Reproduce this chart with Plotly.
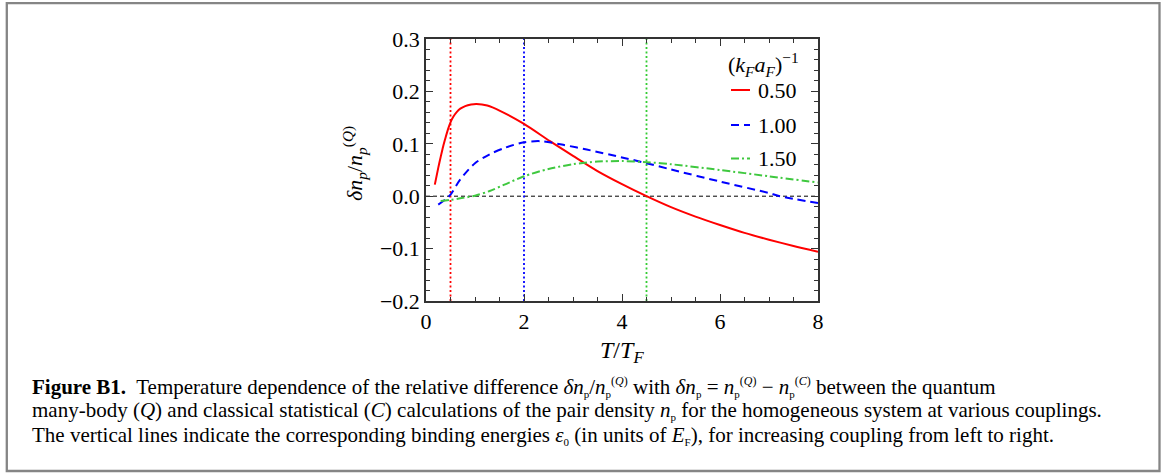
import plotly.graph_objects as go

# ---- data ---------------------------------------------------------------
# relative pair-density difference  dn_p / n_p^(Q)  versus  T/T_F
couplings = ["0.50", "1.00", "1.50"]

t_red = [0.18, 0.25, 0.30, 0.35, 0.40, 0.45, 0.50, 0.56, 0.63, 0.70, 0.80, 0.92, 1.03, 1.25,
         1.51, 2.00, 2.53, 3.00, 3.50, 4.00, 4.50, 5.00, 5.50, 6.00, 6.50, 7.00, 7.50, 8.00]
d_red = [0.022, 0.054, 0.075, 0.095, 0.112, 0.128, 0.141, 0.152, 0.161, 0.167, 0.172, 0.175,
         0.176, 0.173, 0.163, 0.138, 0.105, 0.077, 0.048, 0.023, 0.000, -0.021, -0.039,
         -0.055, -0.070, -0.083, -0.095, -0.106]

t_blue = [0.25, 0.40, 0.50, 0.70, 1.00, 1.30, 1.60, 2.00, 2.35, 2.80, 3.28, 4.00,
          4.50, 5.00, 6.00, 7.00, 7.22, 8.00]
d_blue = [-0.016, -0.006, 0.003, 0.032, 0.063, 0.080, 0.092, 0.103, 0.105, 0.098, 0.089, 0.074,
          0.063, 0.051, 0.028, 0.006, 0.000, -0.013]

t_green = [0.30, 0.50, 0.70, 1.00, 1.30, 1.60, 2.00, 2.50, 3.00, 3.50, 4.00, 4.50,
           5.00, 6.00, 7.00, 8.00]
d_green = [-0.009, -0.007, -0.004, 0.001, 0.010, 0.022, 0.038, 0.052, 0.061, 0.066, 0.067, 0.065,
           0.061, 0.050, 0.038, 0.026]

# binding energies eps_0 / E_F for each coupling
binding_energies = [0.5, 2.0, 4.5]

x_ticks = [0, 2, 4, 6, 8]
y_ticks = [-0.2, -0.1, 0.0, 0.1, 0.2, 0.3]
y_tick_text = ["\u22120.2", "\u22120.1", "0.0", "0.1", "0.2", "0.3"]

# ---- styling ------------------------------------------------------------
W, H = 1165, 474
ML, MR, MT, MB = 426, 347, 39, 173
SERIF = "Liberation Serif"

colors = ["#ff0000", "#0000ff", "#3fc83f"]
vcolors = ["#ff0000", "#0000ff", "#33cc33"]
dashes = ["solid", "8px,5px", "8px,3px,2px,3px"]

curves = [(t_red, d_red), (t_blue, d_blue), (t_green, d_green)]


def px_x(p):
    return (p - ML) / (W - ML - MR)


def px_y(p):
    return (H - MB - p) / (H - MT - MB)


fig = go.Figure()

# zero reference line
fig.add_trace(go.Scatter(x=[0, 8], y=[0, 0], mode="lines",
                         line=dict(color="black", width=1, dash="4px,3px"),
                         hoverinfo="skip", showlegend=False))

# binding-energy markers
for xv, c in zip(binding_energies, vcolors):
    fig.add_trace(go.Scatter(x=[xv, xv], y=[-0.2, 0.3], mode="lines",
                             line=dict(color=c, width=1.8, dash="2px,2.5px"),
                             hoverinfo="skip", showlegend=False))

# the three curves
for (tx, dy), c, d, name in zip(curves, colors, dashes, couplings):
    fig.add_trace(go.Scatter(x=tx, y=dy, mode="lines", name=name,
                             line=dict(color=c, width=2, dash=d, shape="spline", smoothing=0.8),
                             showlegend=False))

axis_common = dict(showline=True, linecolor="#333333", linewidth=1.5, mirror="allticks",
                   ticks="inside", tickcolor="#333333", ticklen=7, tickwidth=1,
                   showgrid=False, zeroline=False,
                   tickfont=dict(family=SERIF, size=22, color="black"))

fig.update_xaxes(range=[0, 8], tickvals=x_ticks, ticktext=[str(v) for v in x_ticks],
                 minor=dict(ticks="inside", dtick=0.5, ticklen=4, tickcolor="#333333", showgrid=False),
                 **axis_common)
fig.update_yaxes(range=[-0.2, 0.3], tickvals=y_ticks, ticktext=y_tick_text,
                 minor=dict(ticks="inside", dtick=0.02, ticklen=4, tickcolor="#333333", showgrid=False),
                 **axis_common)

annotations = []
shapes = []


def note(px, py, text, size, xanchor="center", angle=0):
    annotations.append(dict(x=px_x(px), y=px_y(py), xref="paper", yref="paper",
                            xanchor=xanchor, yanchor="middle", textangle=angle,
                            text=text, showarrow=False,
                            font=dict(family=SERIF, size=size, color="black")))


# axis titles
note(622, 352, "<i>T</i>/<i>T<sub>F</sub></i>", 24)
note(354, 164, "<i>δn<sub>p</sub></i>/<i>n<sub>p</sub></i><sup>(<i>Q</i>)</sup>", 22, angle=-90)

# legend
note(726, 64, "(<i>k<sub>F</sub>a<sub>F</sub></i>)<sup>\u22121</sup>", 22, xanchor="left")
for name, c, d, yy in zip(couplings, colors, dashes, [90, 125, 158.5]):
    shapes.append(dict(type="line", xref="paper", yref="paper",
                       x0=px_x(731), x1=px_x(750), y0=px_y(yy), y1=px_y(yy),
                       line=dict(color=c, width=2, dash=d)))
    note(756, yy, name, 22, xanchor="left")


# caption (small indices so the tightly spaced lines stay clear of each other)
def sb(t):
    return "<sub><span style='font-size:11px'>" + t + "</span></sub>"


def sp(t):
    return "<sup><span style='font-size:12px'>" + t + "</span></sup>"


cap = [
    "<b>Figure B1.</b>  Temperature dependence of the relative difference "
    "<i>δn</i>" + sb("p") + "/<i>n</i>" + sb("p") + sp("(<i>Q</i>)") + " with "
    "<i>δn</i>" + sb("p") + " = <i>n</i>" + sb("p") + sp("(<i>Q</i>)") + " \u2212 "
    "<i>n</i>" + sb("p") + sp("(<i>C</i>)") + " between the quantum",
    "many-body (<i>Q</i>) and classical statistical (<i>C</i>) calculations of the pair density "
    "<i>n</i>" + sb("p") + " for the homogeneous system at various couplings.",
    "The vertical lines indicate the corresponding binding energies <i>ε</i>" + sb("0") + " "
    "(in units of <i>E</i>" + sb("F") + "), for increasing coupling from left to right.",
]
for line, yy in zip(cap, [386.5, 410.5, 435]):
    note(30, yy, line, 21, xanchor="left")

# outer frame around the figure
shapes.append(dict(type="rect", xref="paper", yref="paper",
                   x0=px_x(6.8), x1=px_x(1159.5), y0=px_y(3.2), y1=px_y(471),
                   line=dict(color="#858585", width=2.3), layer="below"))

fig.update_layout(width=W, height=H, margin=dict(l=ML, r=MR, t=MT, b=MB),
                  paper_bgcolor="white", plot_bgcolor="white",
                  annotations=annotations, shapes=shapes, showlegend=False)

fig.write_html("out.html")
